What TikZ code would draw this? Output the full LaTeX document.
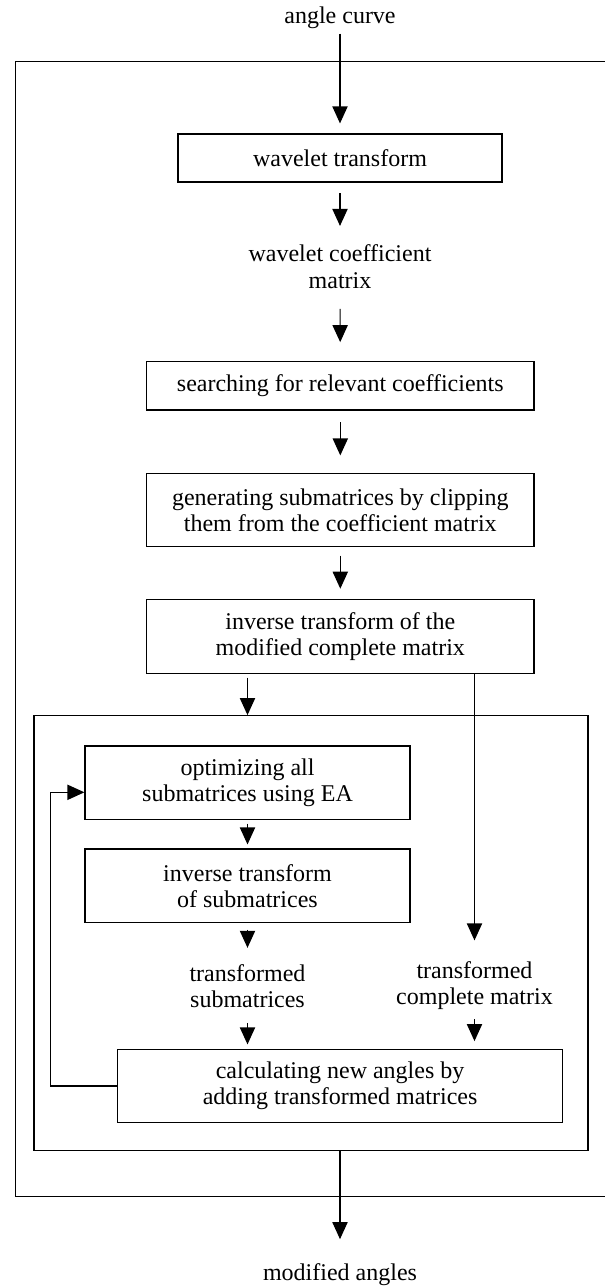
\documentclass[tikz,border=0pt]{standalone}
\usepackage{fontspec}
\setmainfont{Liberation Serif}
\usetikzlibrary{arrows.meta,calc}

\begin{document}
\begin{tikzpicture}[x=0.5pt,y=-0.5pt]
\begin{scope}

\tikzstyle{procnode} = [draw,line width=0.6pt,inner sep=0pt,align=center,font=\fontsize{12}{13.2}\selectfont];
\tikzstyle{textnode} = [inner sep=0pt,align=center,font=\fontsize{12}{13.2}\selectfont];
\tikzstyle{flow} = [-{Triangle[length=8.5pt,width=7.6pt]},line width=0.6pt];

\useasboundingbox (0,0) rectangle (605,1287);

\node [textnode] (ac) at (340,17.7) {angle curve};
\node [procnode,minimum width=162pt,minimum height=24pt] (wt) at (340,158) {wavelet transform};
\node [textnode] (wcm) at (340,266.7) {wavelet coefficient\\matrix};
\node [procnode,minimum width=193.65pt,minimum height=24.15pt] (src) at (340.3,385.9) {searching for relevant coefficients};
\node [procnode,minimum width=193.65pt,minimum height=36.7pt] (gen) at (340.3,510) {generating submatrices by clipping\\them from the coefficient matrix};
\node [procnode,minimum width=193.65pt,minimum height=37pt] (inv) at (340.3,636.3) {inverse transform of the\\modified complete matrix};

\node [draw,line width=0.6pt,inner sep=0pt,minimum width=277pt,minimum height=217.5pt] (inner) at (311,933.2) {};
\node [procnode,minimum width=162.5pt,minimum height=36.65pt] (opt) at (247.5,782.7) {optimizing all\\submatrices using EA};
\node [procnode,minimum width=162.5pt,minimum height=36.85pt] (invs) at (247.5,885.9) {inverse transform\\of submatrices};
\node [textnode] (ts) at (247.5,986.3) {transformed\\submatrices};
\node [textnode] (tcm) at (474.5,985.3) {transformed\\complete matrix};
\node [procnode,minimum width=222.4pt,minimum height=36.7pt] (calc) at (340.1,1086) {calculating new angles by\\adding transformed matrices};
\node [textnode] (ma) at (340,1274.6) {modified angles};

% outer frame, open to the right
\draw [line width=0.6pt] (612,61.7) -- (15.4,61.7) -- (15.4,1196.7) -- (612,1196.7);

\draw [flow,shorten <=2.25pt,shorten >=5pt] (ac) -- (wt);
\draw [flow,shorten <=5.35pt,shorten >=9.3pt] (wt) -- (wcm);
\draw [flow,shorten <=10pt,shorten >=9.5pt] (wcm) -- (src);
\draw [flow,shorten <=5.85pt,shorten >=8.65pt] (src) -- (gen);
\draw [flow,shorten <=4.15pt,shorten >=5pt] (gen) -- (inv);
\draw [flow,shorten <=1.85pt] (opt |- inv.south) -- (opt |- inner.north);
\draw [flow,shorten >=10.15pt] (tcm |- inv.south) -- (tcm);
\draw [flow,shorten <=1.85pt,shorten >=2pt] (opt) -- (invs);
\draw [flow,shorten <=3.15pt,shorten >=8.15pt] (invs) -- (ts);
\draw [flow,shorten <=7.2pt,shorten >=2.15pt] (ts) -- (ts |- calc.north);
\draw [flow,shorten <=4.75pt,shorten >=3.8pt] (tcm) -- (tcm |- calc.north);
\draw [flow] (calc.west) -- ++(-66.4,0) |- ([yshift=-4.8pt]opt.west);
\draw [flow,shorten >=12pt] (ma |- inner.south) -- (ma);

\end{scope}
\end{tikzpicture}
\end{document}
